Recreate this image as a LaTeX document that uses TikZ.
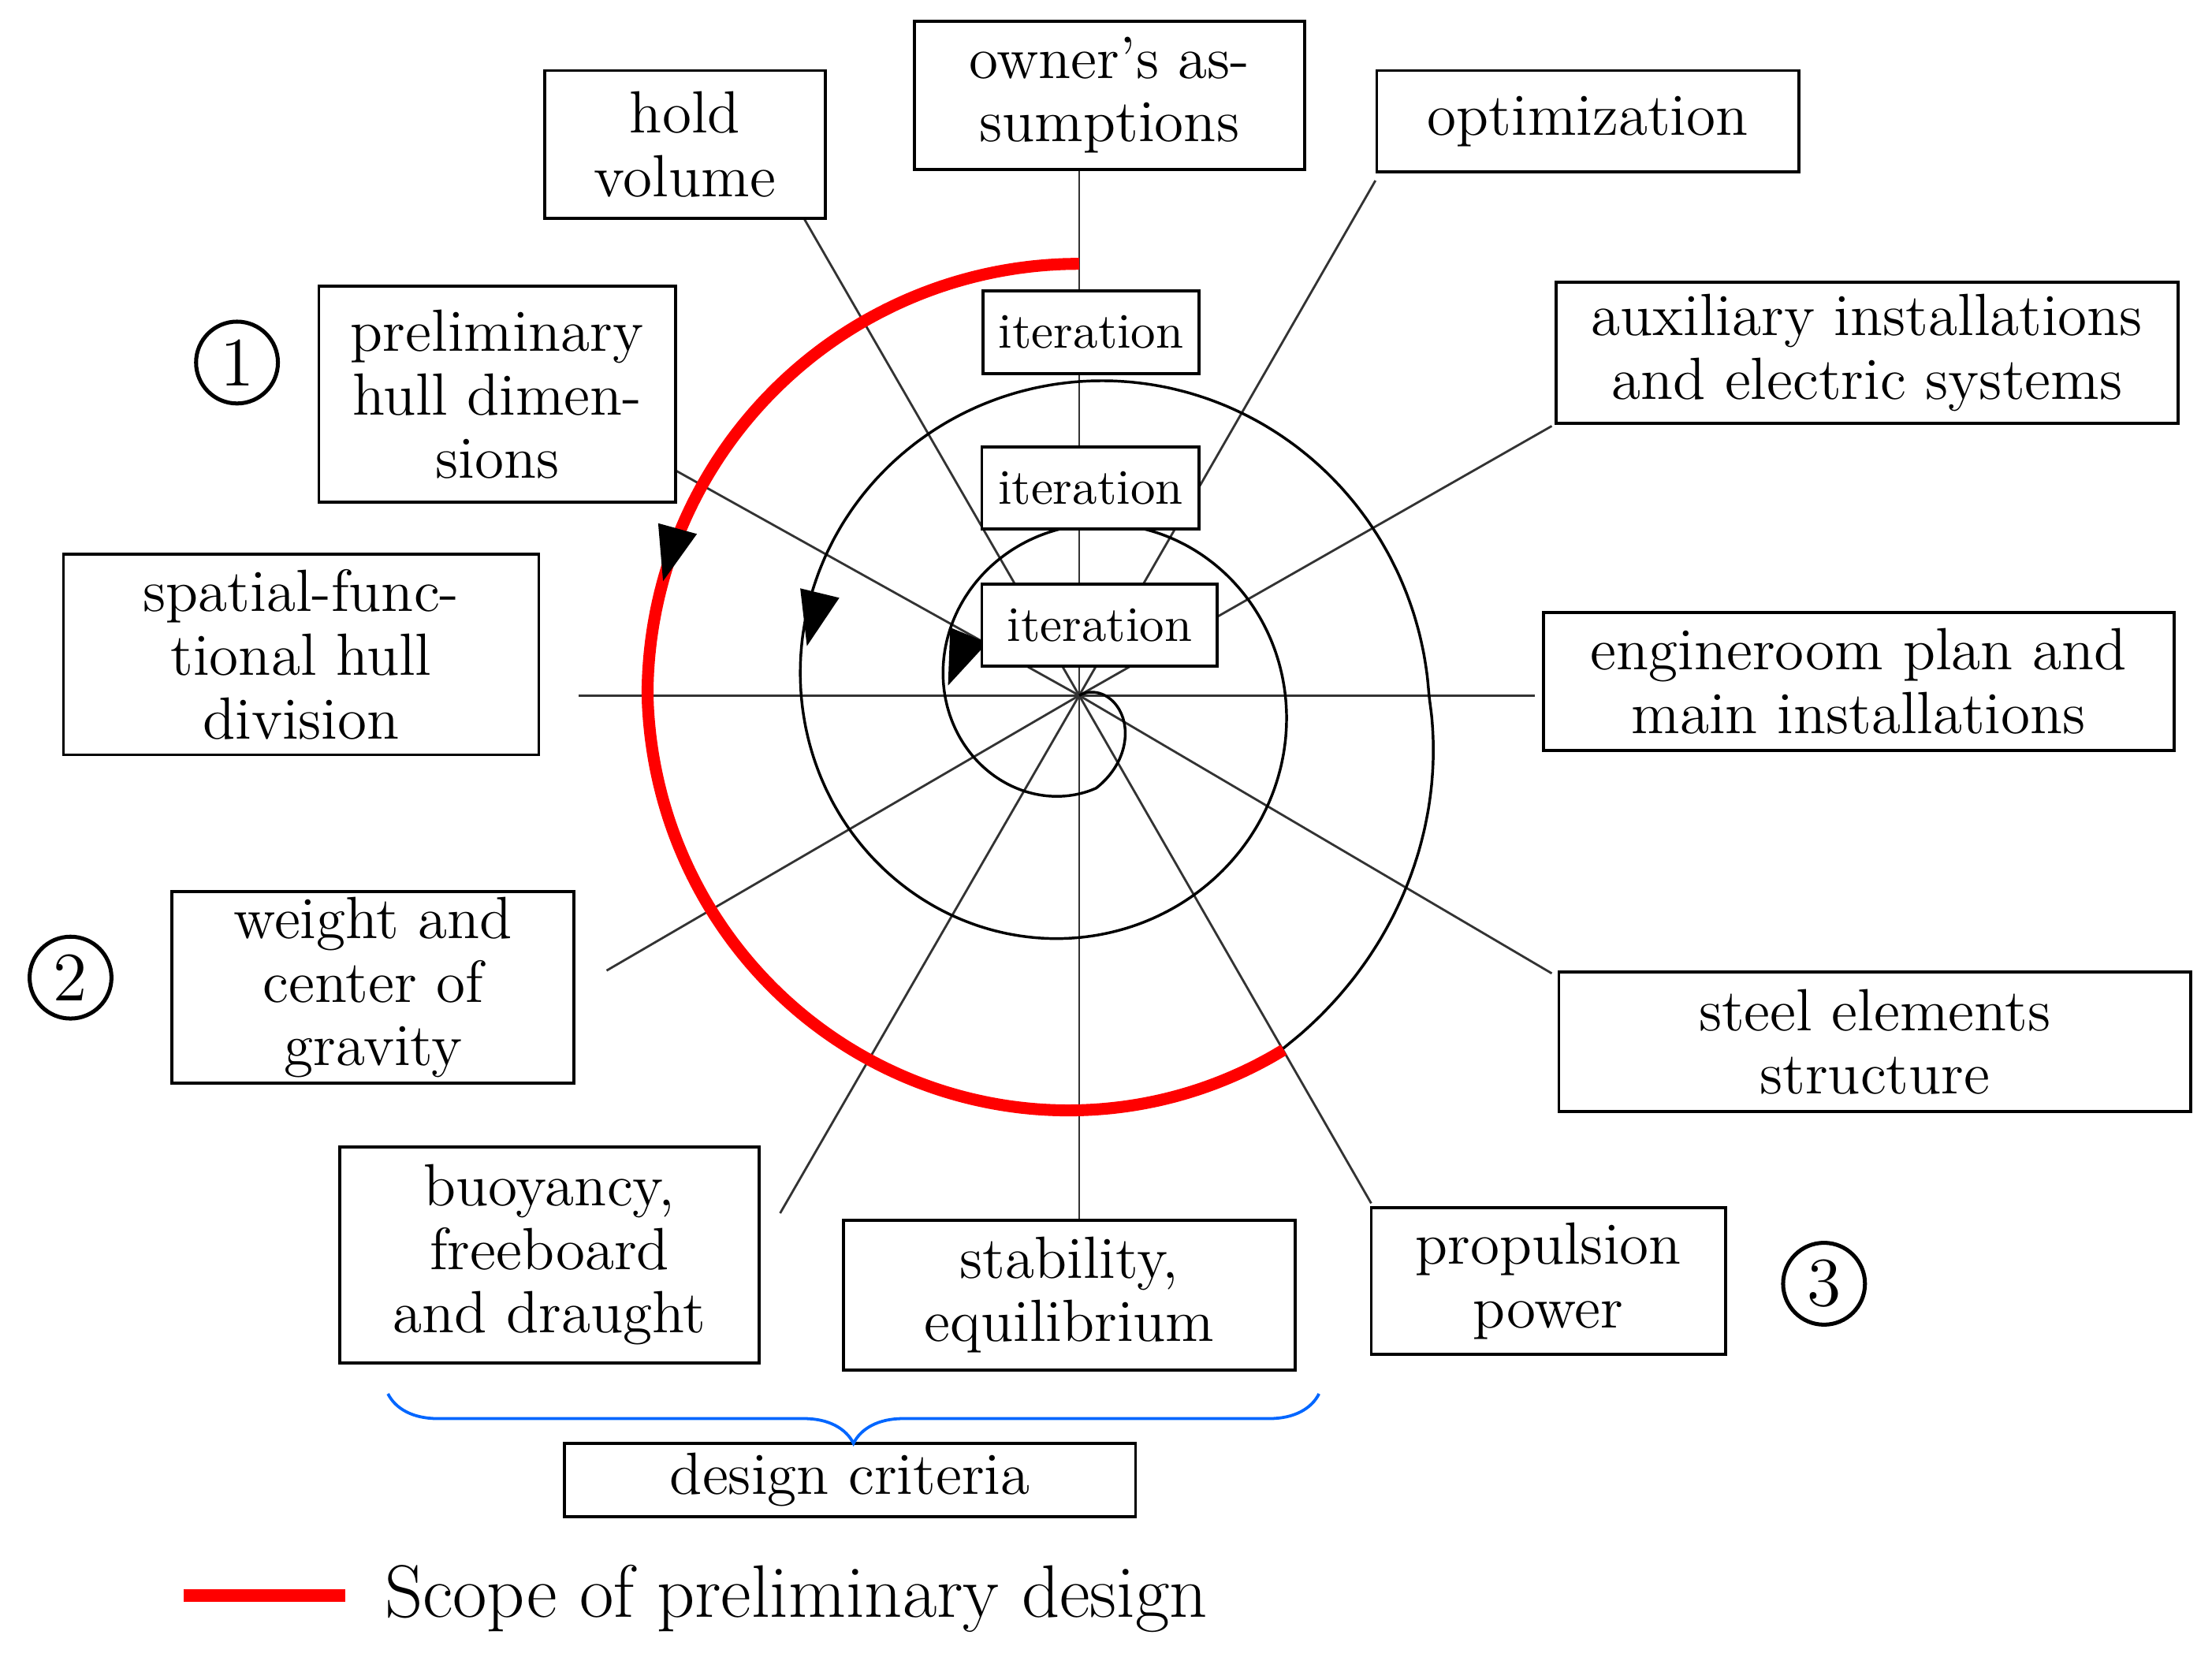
\documentclass[tikz,border=0pt]{standalone}
\usepackage{tikz}
\usetikzlibrary{arrows.meta,decorations.pathreplacing}
\begin{document}
\begin{tikzpicture}[x=0.01cm,y=-0.01cm,
  box/.style={draw,fill=white,inner sep=0pt,align=center,font=\fontsize{12}{12.8}\selectfont,line width=0.6pt},
  it/.style={box,font=\fontsize{10}{10}\selectfont},
  spoke/.style={line width=0.45pt,draw=black!80},
  num/.style={circle,draw,line width=0.8pt,minimum size=0.58cm,inner sep=0pt,font=\fontsize{14}{14}\selectfont},
  tip/.style={-{Triangle[length=11pt,width=8pt]},line width=0.4pt}]
\useasboundingbox (0,0) rectangle (1568,1185);
\newcommand\bx[7][box]{\node[#1,minimum width={(#5-#3)*0.01cm},minimum height={(#6-#4)*0.01cm}] (#2) at ({(#3+#5)/2},{(#4+#6)/2}) {#7};}
\coordinate (c) at (765,493);
% spokes
\foreach \n/\x/\y in {a/765/120,b/765/865,e/410/493,f/1088/493,g/570/155,h/975/128,i/1100/302,j/1100/690,k/972/853,l/553/860,m/430/688,n/478/333}
  {\coordinate (p\n) at (\x,\y); \draw[spoke] (c) -- (p\n);}
% spiral (winding inwards, counter-clockwise)
\draw[line width=0.55pt] plot[domain=300:1000,samples=200,smooth] ({765+(248-0.283*(\x-360)+max(0,360-\x)*0.4)*cos(\x)},{493-(248-0.283*(\x-360)+max(0,360-\x)*0.4)*sin(\x)})
  plot[domain=1000:1110,samples=30,smooth] ({765+(67*(1110-\x)/110)*cos(\x)},{493-(67*(1110-\x)/110)*sin(\x)});
% red arc
\draw[red,line width=2.4pt] plot[domain=90:300,samples=100,smooth] ({765+(306-max(0,\x-180)*0.133)*cos(\x)},{493-(306-max(0,\x-180)*0.133)*sin(\x)});
% arrowheads
\draw[tip] (478,383) -- (470,412);
\draw[tip] (580,425) -- (572,458);
\draw[tip] (686,452) -- (672,486);
% boxes
\bx{own}{648}{15}{925}{120}{owner's as-\\sumptions}
\bx{hold}{386}{50}{585}{155}{hold\\volume}
\bx{opt}{976}{50}{1275}{122}{optimization}
\bx{prel}{226}{203}{479}{356}{preliminary\\hull dimen-\\sions}
\bx{aux}{1103}{200}{1544}{300}{auxiliary installations\\and electric systems}
\bx{spat}{45}{393}{382}{535}{spatial-func-\\tional hull\\division}
\bx{eng}{1094}{434}{1541}{532}{engineroom plan and\\main installations}
\bx{wgt}{122}{632}{407}{768}{weight and\\center of\\gravity}
\bx{steel}{1105}{689}{1553}{788}{steel elements\\structure}
\bx{buoy}{241}{813}{538}{966}{buoyancy,\\freeboard\\and draught}
\bx{stab}{598}{865}{918}{971}{stability,\\equilibrium}
\bx{prop}{972}{856}{1223}{960}{propulsion\\power}
\bx{crit}{400}{1023}{805}{1075}{design criteria}
\bx[it]{it1}{697}{206}{850}{265}{\raisebox{-3pt}{iteration}}
\bx[it]{it2}{696}{317}{850}{375}{\raisebox{-3pt}{iteration}}
\bx[it]{it3}{696}{414}{863}{472}{\raisebox{-3pt}{iteration}}
\node[num] (n1) at (168,257) {1};
\node[num] (n2) at (50,693) {2};
\node[num] (n3) at (1293,910) {3};
\draw[decorate,decoration={brace,amplitude=10pt,mirror},draw=blue!60!cyan,line width=0.6pt] (275,988) -- (935,988);
\coordinate (l1) at (130,1131); \coordinate (l2) at (245,1131);
\draw[red,line width=2.6pt] (l1) -- (l2);
\node[anchor=west,font=\fontsize{15}{15}\selectfont,inner sep=0pt] (leg) at (272,1133) {Scope of preliminary design};
\end{tikzpicture}
\end{document}
